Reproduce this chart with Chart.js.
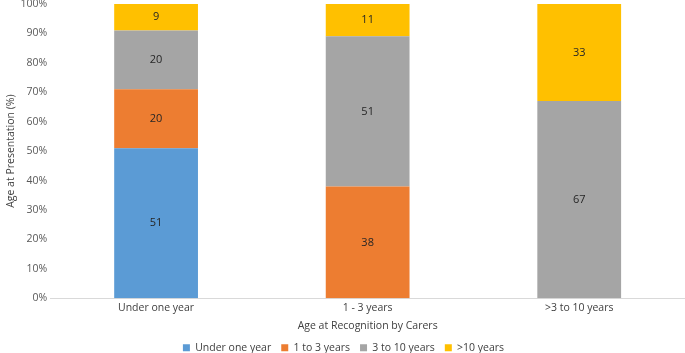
<!DOCTYPE html>
<html lang="en">
<head>
<meta charset="UTF-8">
<title>Age at Presentation</title>
<script src="https://cdn.jsdelivr.net/npm/chart.js"></script>
<style>
  html, body { margin: 0; padding: 0; background: #fff; }
  #wrap { width: 685px; height: 353px; }
</style>
</head>
<body>
<div id="wrap"><canvas id="chart" width="685" height="353"></canvas></div>
<script>
const categories = ['Under one year', '1 - 3 years', '>3 to 10 years'];
const underOne = [51, 0, 0];
const oneToThree = [20, 38, 0];
const threeToTen = [20, 51, 67];
const overTen = [9, 11, 33];
const yTicks = [0, 10, 20, 30, 40, 50, 60, 70, 80, 90, 100];

const font = "'Open Sans', 'Liberation Sans', sans-serif";

// draws the value in the middle of every segment
const segmentLabels = {
  id: 'segmentLabels',
  afterDatasetsDraw(chart) {
    const ctx = chart.ctx;
    ctx.save();
    ctx.font = '11px ' + font;
    ctx.fillStyle = '#262626';
    ctx.textAlign = 'center';
    ctx.textBaseline = 'middle';
    chart.data.datasets.forEach((ds, i) => {
      chart.getDatasetMeta(i).data.forEach((bar, j) => {
        const v = ds.data[j];
        if (!v) return;
        ctx.fillText(String(v), bar.x, (bar.y + bar.base) / 2);
      });
    });
    ctx.restore();
  }
};

new Chart(document.getElementById('chart'), {
  type: 'bar',
  data: {
    labels: categories,
    datasets: [
      { label: 'Under one year', data: underOne, backgroundColor: '#5B9BD5' },
      { label: '1 to 3 years', data: oneToThree, backgroundColor: '#ED7D31' },
      { label: '3 to 10 years', data: threeToTen, backgroundColor: '#A5A5A5' },
      { label: '>10 years', data: overTen, backgroundColor: '#FFC000' }
    ]
  },
  options: {
    responsive: false,
    animation: false,
    layout: { padding: { top: 4, right: 0, left: 2, bottom: -10 } },
    datasets: { bar: { barPercentage: 1, categoryPercentage: 0.396, borderWidth: 0 } },
    plugins: {
      legend: {
        position: 'bottom',
        labels: {
          boxWidth: 7, boxHeight: 7, padding: 10,
          color: '#404040',
          font: { family: font, size: 10.5 }
        }
      },
      tooltip: { enabled: false }
    },
    scales: {
      x: {
        stacked: true,
        grid: { display: false, drawTicks: false },
        border: { color: '#D9D9D9' },
        ticks: { color: '#404040', font: { family: font, size: 10.5 }, padding: 3 },
        title: { display: true, text: 'Age at Recognition by Carers', color: '#404040', font: { family: font, size: 10.5 }, padding: { top: 3, bottom: 0 } }
      },
      y: {
        stacked: true,
        min: 0, max: 100,
        afterBuildTicks(axis) { axis.ticks = yTicks.map(v => ({ value: v })); },
        afterFit(axis) { axis.paddingTop = 0; axis.paddingBottom = 0; },
        grid: { display: false, drawTicks: false },
        border: { display: false },
        ticks: { color: '#595959', font: { family: font, size: 10.5 }, padding: 3, callback: v => v + '%' },
        title: { display: true, text: 'Age at Presentation (%)', color: '#404040', font: { family: font, size: 10.5 }, padding: { top: 3, bottom: 0 } }
      }
    }
  },
  plugins: [segmentLabels]
});
</script>
</body>
</html>
